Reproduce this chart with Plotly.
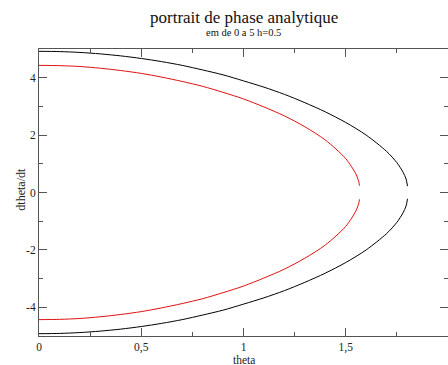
import plotly.graph_objects as go

# Upper branches (theta, dtheta/dt); lower branches are their mirror
black_theta = [0, 0.1, 0.2, 0.3, 0.4, 0.5, 0.6, 0.7, 0.8, 0.9, 1.0, 1.1, 1.2, 1.3, 1.4, 1.5,
               1.6, 1.7, 1.75, 1.78, 1.795, 1.802]
black_dtheta = [4.92, 4.91, 4.88, 4.83, 4.76, 4.67, 4.56, 4.43, 4.27, 4.10, 3.89, 3.67, 3.42, 3.13,
                2.81, 2.44, 2.00, 1.43, 1.04, 0.71, 0.47, 0.22]

red_theta = [0, 0.1, 0.2, 0.3, 0.4, 0.5, 0.6, 0.7, 0.8, 0.9, 1.0, 1.1, 1.2, 1.3, 1.4, 1.5,
             1.55, 1.56, 1.565, 1.567]
red_dtheta = [4.43, 4.42, 4.39, 4.33, 4.25, 4.15, 4.02, 3.87, 3.70, 3.49, 3.26, 2.98, 2.67, 2.29,
              1.83, 1.18, 0.64, 0.46, 0.34, 0.24]

x_tickvals = [0, 0.5, 1, 1.5, 2]
x_ticktext = ["0", "0,5", "1", "1,5", "2"]
y_tickvals = [-4, -2, 0, 2, 4]
y_ticktext = ["-4", "-2", "0", "2", "4"]

title_text = "portrait de phase analytique"
subtitle_text = "em de 0 a 5 h=0.5"
x_title = "theta"
y_title = "dtheta/dt"

FONT = "Liberation Serif"
AX = "#555555"
TXT = "#222222"

fig = go.Figure()
for th, dv, col in [(black_theta, black_dtheta, "black"), (red_theta, red_dtheta, "#e01010")]:
    fig.add_trace(go.Scatter(x=th, y=dv, mode="lines",
                             line=dict(color=col, width=1, shape="spline", smoothing=0.8),
                             showlegend=False, hoverinfo="skip"))
    fig.add_trace(go.Scatter(x=th, y=[-v for v in dv], mode="lines",
                             line=dict(color=col, width=1, shape="spline", smoothing=0.8),
                             showlegend=False, hoverinfo="skip"))

axis_common = dict(showgrid=False, zeroline=False, showline=True, linecolor=AX, linewidth=1,
                   mirror="allticks", ticks="inside", ticklen=8, tickcolor=AX, tickwidth=1,
                   tickfont=dict(family=FONT, size=11.5, color=TXT), automargin=False)

fig.update_xaxes(range=[0, 2], tickvals=x_tickvals, ticktext=x_ticktext,
                 minor=dict(ticks="inside", ticklen=4, dtick=0.25, tick0=0, tickcolor=AX, showgrid=False),
                 **axis_common)
fig.update_yaxes(range=[-5, 5], tickvals=y_tickvals, ticktext=y_ticktext,
                 minor=dict(ticks="inside", ticklen=4, dtick=1, tick0=0, tickcolor=AX, showgrid=False),
                 **axis_common)

fig.update_layout(
    width=448, height=365,
    margin=dict(l=39, r=0, t=49, b=29),
    paper_bgcolor="white", plot_bgcolor="white",
    annotations=[
        dict(text=title_text, xref="paper", yref="paper", x=0.5, y=1, yshift=32, yanchor="middle",
             showarrow=False, font=dict(family=FONT, size=17, color="#111")),
        dict(text=subtitle_text, xref="paper", yref="paper", x=0.5, y=1, yshift=17, yanchor="middle",
             showarrow=False, font=dict(family=FONT, size=10.5, color="#111")),
        dict(text=x_title, xref="paper", yref="paper", x=0.5, y=0, yshift=-24, yanchor="middle",
             showarrow=False, font=dict(family=FONT, size=11.5, color=TXT)),
        dict(text=y_title, xref="paper", yref="paper", x=0, y=0.51, xshift=-18, xanchor="center",
             yanchor="middle", textangle=-90,
             showarrow=False, font=dict(family=FONT, size=12, color=TXT)),
    ],
)

fig.write_html("out.html")
